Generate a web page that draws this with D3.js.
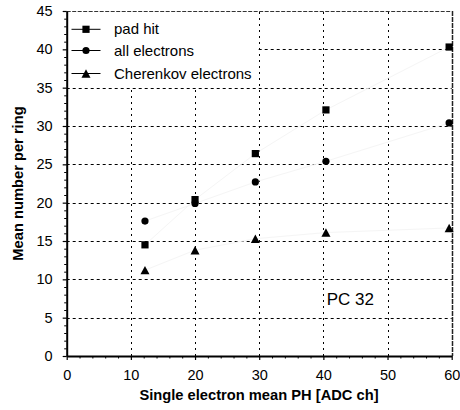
<!DOCTYPE html>
<html>
<head>
<meta charset="utf-8">
<script src="https://cdn.jsdelivr.net/npm/d3@7"></script>
<style>
  html, body { margin: 0; padding: 0; background: #fff; }
  svg { display: block; font-family: "Liberation Sans", Arial, sans-serif; }
</style>
</head>
<body>
<svg id="chart" width="460" height="410"></svg>
<script>
// ---- data ----
const xValues = [12.2, 20.0, 29.4, 40.4, 59.6];
const padHit = [14.5, 20.4, 26.4, 32.1, 40.3];
const allElectrons = [17.6, 19.9, 22.7, 25.4, 30.4];
const cherenkovElectrons = [11.2, 13.8, 15.3, 16.1, 16.7];
const seriesNames = ["pad hit", "all electrons", "Cherenkov electrons"];
const xTicks = [0, 10, 20, 30, 40, 50, 60];
const yTicks = [0, 5, 10, 15, 20, 25, 30, 35, 40, 45];
const xMinor = d3.range(0, 61, 2).filter(v => v % 10 !== 0);
const yMinor = d3.range(0, 46, 1).filter(v => v % 5 !== 0);
const annotation = "PC 32";
const xTitle = "Single electron mean PH [ADC ch]";
const yTitle = "Mean number per ring";

const svg = d3.select("#chart");
const x = d3.scaleLinear().domain([0, 60]).range([66.7, 451.7]);
const y = d3.scaleLinear().domain([0, 45]).range([356, 11]);
const px = v => Math.round(v) + 0.5;

// grid
const grid = svg.append("g");
grid.selectAll("line.h").data(yTicks.filter(v => v > 0 && v < 45)).join("line")
  .attr("x1", x(0)).attr("x2", x(60)).attr("y1", d => px(y(d))).attr("y2", d => px(y(d)))
  .attr("stroke", "#000").attr("stroke-width", 1).attr("stroke-dasharray", "3,3");
grid.selectAll("line.v").data(xTicks.filter(v => v > 0 && v < 60)).join("line")
  .attr("y1", y(0)).attr("y2", y(45)).attr("x1", d => px(x(d))).attr("x2", d => px(x(d)))
  .attr("stroke", "#000").attr("stroke-width", 1).attr("stroke-dasharray", "2,4");

// top & right border
svg.append("line").attr("x1", x(0)).attr("x2", x(60)).attr("y1", px(y(45))).attr("y2", px(y(45)))
  .attr("stroke", "#333").attr("stroke-width", 1).attr("stroke-dasharray", "4,1.5");
svg.append("line").attr("x1", px(x(60))).attr("x2", px(x(60))).attr("y1", y(45)).attr("y2", y(0))
  .attr("stroke", "#222").attr("stroke-width", 1.5).attr("stroke-dasharray", "5,1");

// faint connecting lines
const series = [
  { name: seriesNames[0], values: padHit, shape: "square" },
  { name: seriesNames[1], values: allElectrons, shape: "circle" },
  { name: seriesNames[2], values: cherenkovElectrons, shape: "triangle" }
];
const line = d3.line().x(d => x(d[0])).y(d => y(d[1]));
series.forEach(s => {
  const pts = xValues.map((xv, i) => [xv, s.values[i]]);
  svg.append("path").attr("d", line(pts)).attr("fill", "none").attr("stroke", "#f5f5f5").attr("stroke-width", 1);
});

// legend background
svg.append("rect").attr("x", x(0) + 1).attr("y", y(45) + 1).attr("width", 190).attr("height", 75).attr("fill", "#fff");

// axes
const fontSize = 14.5;
const xAxis = svg.append("g").attr("transform", `translate(0,${y(0)})`)
  .call(d3.axisBottom(x).tickValues(xTicks).tickSize(4).tickPadding(10).tickSizeOuter(0));
const xMin = svg.append("g").attr("transform", `translate(0,${y(0)})`)
  .call(d3.axisBottom(x).tickValues(xMinor).tickSize(2.5).tickFormat("").tickSizeOuter(0));
const yAxis = svg.append("g").attr("transform", `translate(${x(0)},0)`)
  .call(d3.axisLeft(y).tickValues(yTicks).tickSize(4).tickPadding(10).tickSizeOuter(0));
const yMin = svg.append("g").attr("transform", `translate(${x(0)},0)`)
  .call(d3.axisLeft(y).tickValues(yMinor).tickSize(2.5).tickFormat("").tickSizeOuter(0));
[xMin, yMin].forEach(g => g.select(".domain").remove());
[xAxis, yAxis].forEach(g => {
  g.select(".domain").attr("stroke-width", 2).attr("stroke", "#000");
  g.selectAll(".tick line").attr("stroke", "#000").attr("stroke-width", 1.2);
  g.selectAll(".tick text").attr("font-size", fontSize).attr("fill", "#000")
    .attr("font-family", "'Liberation Sans', Arial, sans-serif");
});
[xMin, yMin].forEach(g => g.selectAll(".tick line").attr("stroke", "#000").attr("stroke-width", 1));

// titles
svg.append("text").attr("x", 259).attr("y", 400).attr("text-anchor", "middle")
  .attr("font-size", 14.7).attr("font-weight", "bold").text(xTitle);
svg.append("text").attr("transform", `translate(23,${(y(0) + y(45)) / 2}) rotate(-90)`)
  .attr("text-anchor", "middle").attr("font-size", 14.7).attr("font-weight", "bold").text(yTitle);

// annotation
svg.append("text").attr("x", x(44.2)).attr("y", y(6.6)).attr("text-anchor", "middle")
  .attr("font-size", 17).text(annotation);

// markers
const triPath = (w, h) => `M0,${-h / 2}L${w / 2},${h / 2}L${-w / 2},${h / 2}Z`;
function drawMarker(g, shape) {
  if (shape === "square") g.append("rect").attr("x", -3.6).attr("y", -3.6).attr("width", 7.2).attr("height", 7.2).attr("fill", "#000");
  else if (shape === "circle") g.append("circle").attr("r", 3.6).attr("fill", "#000");
  else g.append("path").attr("d", triPath(9, 8.4)).attr("fill", "#000");
}
series.forEach(s => {
  xValues.forEach((xv, i) => {
    const g = svg.append("g").attr("transform", `translate(${x(xv)},${y(s.values[i])})`);
    drawMarker(g, s.shape);
  });
});

// legend
const legendY = [29.3, 50.5, 73.5];
series.forEach((s, i) => {
  const g = svg.append("g").attr("transform", `translate(86,${legendY[i]})`);
  g.append("line").attr("x1", -14.5).attr("x2", 14.5).attr("stroke", "#000").attr("stroke-width", 1);
  drawMarker(g, s.shape);
  svg.append("text").attr("x", 114).attr("y", legendY[i] + 5).attr("font-size", 15).text(s.name);
});
</script>
</body>
</html>
